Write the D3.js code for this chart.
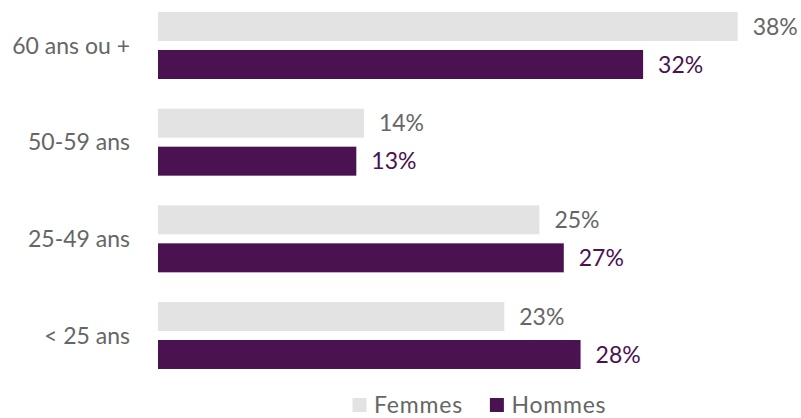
<!DOCTYPE html>
<meta charset="utf-8">
<head>
<style>
  body { margin: 0; background: #fff; }
  svg text { font-family: Lato, "Open Sans", sans-serif; }
</style>
</head>
<body>
<script src="https://cdn.jsdelivr.net/npm/d3@7"></script>
<script>

// data (in %)
var categories = ["60 ans ou +", "50-59 ans", "25-49 ans", "< 25 ans"];
var series = ["Femmes", "Hommes"];
var femmes = [38.0, 13.5, 25.0, 22.7];
var hommes = [31.8, 13.0, 26.6, 27.7];

var colors = {Femmes: "#e3e3e3", Hommes: "#4a1250"};
var labelColors = {Femmes: "#666666", Hommes: "#4a1250"};

var width = 801, height = 418;

var svg = d3.select("body").append("svg")
    .attr("width", width)
    .attr("height", height);

var rows = categories.map(function(c, i) {
  return {cat: c, Femmes: femmes[i], Hommes: hommes[i]};
});

var x = d3.scaleLinear().domain([0, 40]).range([158, 768.2]);

var y = d3.scaleBand()
    .domain(categories)
    .range([12, 369])
    .paddingInner(0.307)
    .paddingOuter(0);

var ySub = d3.scaleBand()
    .domain(series)
    .range([0, y.bandwidth()])
    .paddingInner(0.237);

var fmt = d3.format(".0f");

var groups = svg.selectAll("g.group")
    .data(rows)
  .enter().append("g")
    .attr("class", "group")
    .attr("transform", function(d) { return "translate(0," + y(d.cat) + ")"; });

groups.selectAll("rect")
    .data(function(d) { return series.map(function(s) { return {key: s, value: d[s]}; }); })
  .enter().append("rect")
    .attr("x", x(0))
    .attr("y", function(d) { return ySub(d.key); })
    .attr("width", function(d) { return x(d.value) - x(0); })
    .attr("height", ySub.bandwidth())
    .attr("fill", function(d) { return colors[d.key]; });

groups.selectAll("text.value")
    .data(function(d) { return series.map(function(s) { return {key: s, value: d[s]}; }); })
  .enter().append("text")
    .attr("class", "value")
    .attr("x", function(d) { return x(d.value) + 15; })
    .attr("y", function(d) { return ySub(d.key) + ySub.bandwidth() / 2; })
    .attr("dy", "0.36em")
    .attr("font-size", "23px")
    .attr("fill", function(d) { return labelColors[d.key]; })
    .text(function(d) { return fmt(d.value) + "%"; });

// category axis, no line or ticks
var yAxis = svg.append("g")
    .attr("transform", "translate(158,0)")
    .call(d3.axisLeft(y).tickSize(0).tickPadding(28));
yAxis.select(".domain").remove();
yAxis.selectAll("text")
    .attr("font-size", "23px")
    .attr("fill", "#666666")
    .attr("dy", "0.36em")
    .style("font-family", "Lato, 'Open Sans', sans-serif");

// legend (kept a little higher so the text isn't clipped at the bottom)
var legend = svg.append("g").attr("transform", "translate(352.5,0)");
var lx = 0;
series.forEach(function(s) {
  var item = legend.append("g").attr("transform", "translate(" + lx + ",0)");
  item.append("rect")
      .attr("x", 0).attr("y", 398)
      .attr("width", 14).attr("height", 14)
      .attr("fill", colors[s]);
  var t = item.append("text")
      .attr("x", 21.5).attr("y", 413)
      .attr("font-size", "23px")
      .attr("letter-spacing", "0.8px")
      .attr("fill", "#666666")
      .text(s);
  lx += 21.5 + t.node().getComputedTextLength() + 27;
});

</script>
</body>
